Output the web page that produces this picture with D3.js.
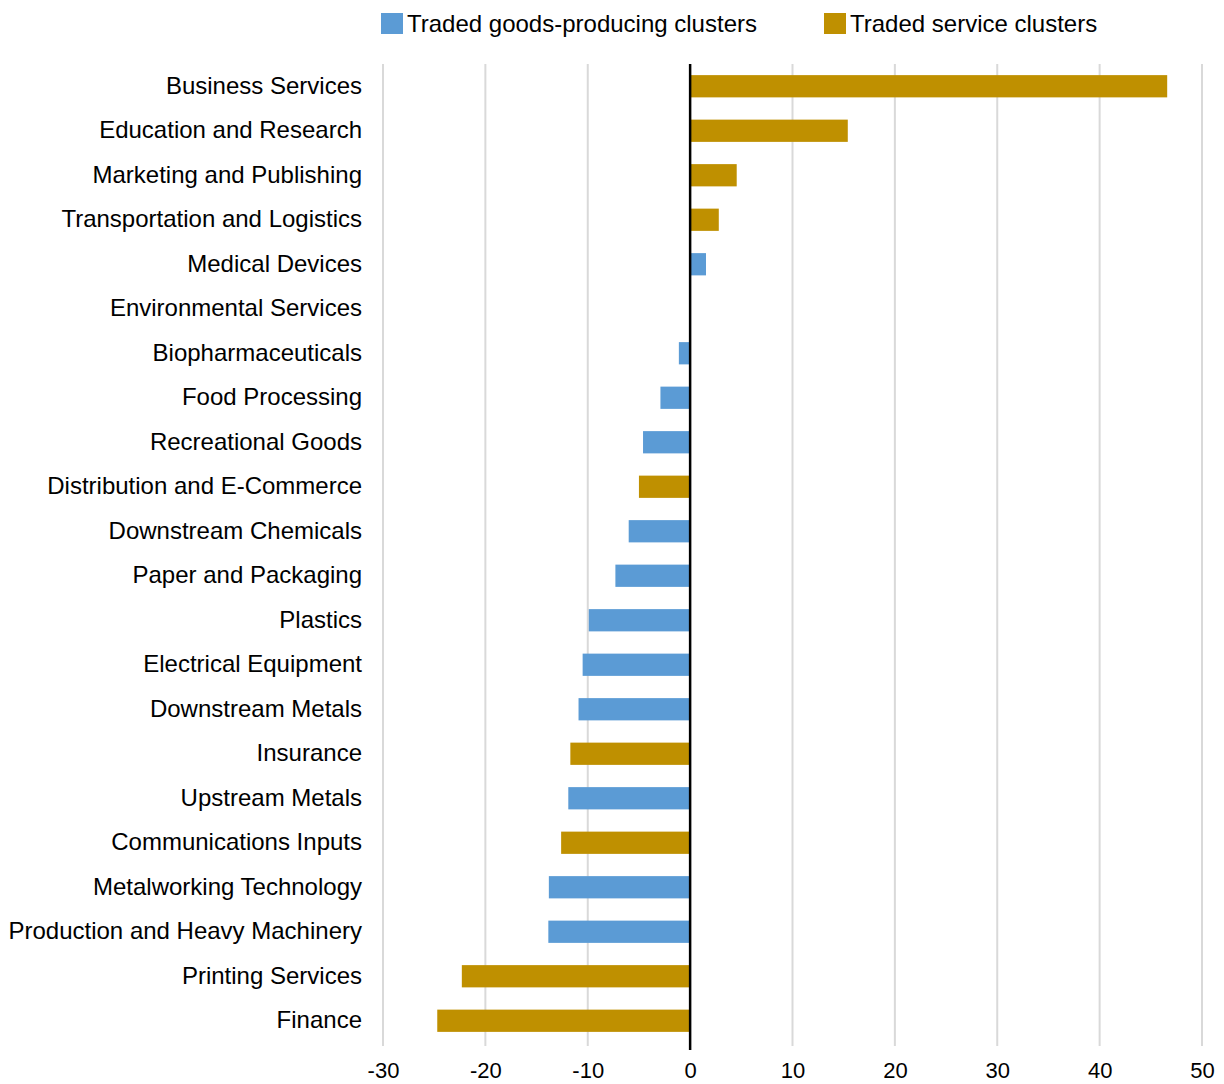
<!DOCTYPE html>
<html><head><meta charset="utf-8">
<script src="https://cdn.jsdelivr.net/npm/d3@7"></script>
<style>body{margin:0;background:#fff;} text{font-family:"Liberation Sans",Arial,sans-serif;}</style>
</head><body><svg id="c" width="1224" height="1084"></svg>
<script>
const categories = ["Business Services","Education and Research","Marketing and Publishing","Transportation and Logistics","Medical Devices","Environmental Services","Biopharmaceuticals","Food Processing","Recreational Goods","Distribution and E-Commerce","Downstream Chemicals","Paper and Packaging","Plastics","Electrical Equipment","Downstream Metals","Insurance","Upstream Metals","Communications Inputs","Metalworking Technology","Production and Heavy Machinery","Printing Services","Finance"];
const values = [46.6,15.4,4.55,2.8,1.55,0,-1.1,-2.9,-4.6,-5.0,-6.0,-7.3,-9.9,-10.5,-10.9,-11.7,-11.9,-12.6,-13.8,-13.85,-22.3,-24.7];
const types = ["s","s","s","s","g","s","g","g","g","s","g","g","g","g","g","s","g","s","g","g","s","s"];
const seriesNames = {g:"Traded goods-producing clusters", s:"Traded service clusters"};
const colors = {g:"#5B9BD5", s:"#BF9000"};
const ticks = [-30,-20,-10,0,10,20,30,40,50];

const FS = 24;
const svg = d3.select("#c");
const x = d3.scaleLinear().domain([-30,50]).range([383,1202]);
const y = d3.scaleBand().domain(categories).range([64,1043]).paddingInner(0.5).paddingOuter(0.25);

// gridlines
svg.append("g").selectAll("line").data(ticks.filter(t=>t!==0)).join("line")
  .attr("x1",d=>x(d)).attr("x2",d=>x(d)).attr("y1",64).attr("y2",1046)
  .attr("stroke","#d9d9d9").attr("stroke-width",2);

// bars
const data = categories.map((c,i)=>({c,v:values[i],t:types[i]}));
svg.append("g").selectAll("rect").data(data.filter(d=>d.v!==0)).join("rect")
  .attr("x",d=>x(Math.min(0,d.v))).attr("width",d=>Math.abs(x(d.v)-x(0)))
  .attr("y",d=>y(d.c)).attr("height",y.bandwidth())
  .attr("fill",d=>colors[d.t]);

// zero line
svg.append("line").attr("x1",x(0)).attr("x2",x(0)).attr("y1",64).attr("y2",1050)
  .attr("stroke","#000").attr("stroke-width",2.5);

// x axis labels
const xa = d3.axisBottom(x).tickValues(ticks).tickSize(0).tickPadding(0).tickFormat(d=>String(d));
const gx = svg.append("g").attr("transform","translate(0,1070)").call(xa);
gx.select(".domain").remove();
gx.selectAll("text").attr("font-size",22).attr("fill","#000").attr("font-family","Liberation Sans, Arial, sans-serif").attr("dy","0.35em");

// y labels
const ya = d3.axisLeft(y).tickSize(0).tickPadding(0);
const gy = svg.append("g").attr("transform","translate(362,0)").call(ya);
gy.select(".domain").remove();
gy.selectAll("text").attr("font-size",FS).attr("fill","#000").attr("font-family","Liberation Sans, Arial, sans-serif");

// legend
const leg = [{k:"g",x:381},{k:"s",x:824}];
const lg = svg.append("g");
leg.forEach(l=>{
  lg.append("rect").attr("x",l.x).attr("y",13).attr("width",22).attr("height",21).attr("fill",colors[l.k]);
  lg.append("text").attr("x",l.x+26).attr("y",32).attr("font-size",FS).attr("fill","#000").text(seriesNames[l.k]);
});
</script></body></html>
